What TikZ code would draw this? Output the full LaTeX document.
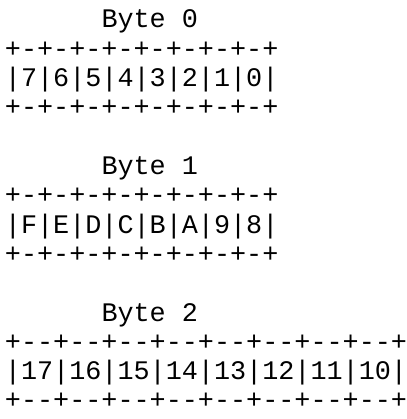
\documentclass[tikz,border=0pt]{standalone}
\usepackage{fontspec}
\newfontfamily\asciifont{Liberation Mono}[Ligatures=TeXOff]

\tikzset{
  ascii/.style={font=\asciifont\fontsize{26.8}{29.3}\selectfont, inner sep=0pt, outer sep=0pt, anchor=base west},
}

\begin{document}
\begin{tikzpicture}[x=1pt,y=-1pt]
  \useasboundingbox (0,0) rectangle (406,419);
  % byte 0
  \node[ascii] (byte0)     at (101.5,28.0)  {Byte 0};
  \node[ascii] (top0)      at (5,57.3)      {+-+-+-+-+-+-+-+-+};
  \node[ascii] (bits0)     at (5,86.6)      {|7|6|5|4|3|2|1|0|};
  \node[ascii] (bot0)      at (5,115.9)     {+-+-+-+-+-+-+-+-+};
  % byte 1
  \node[ascii] (byte1)     at (101.5,174.5) {Byte 1};
  \node[ascii] (top1)      at (5,203.8)     {+-+-+-+-+-+-+-+-+};
  \node[ascii] (bits1)     at (5,233.1)     {|F|E|D|C|B|A|9|8|};
  \node[ascii] (bot1)      at (5,262.4)     {+-+-+-+-+-+-+-+-+};
  % byte 2
  \node[ascii] (byte2)     at (101.5,321.0) {Byte 2};
  \node[ascii] (top2)      at (5,350.3)     {+--+--+--+--+--+--+--+--+};
  \node[ascii] (bits2)     at (5,379.6)     {|17|16|15|14|13|12|11|10|};
  \node[ascii] (bot2)      at (5,408.9)     {+--+--+--+--+--+--+--+--+};
\end{tikzpicture}
\end{document}
